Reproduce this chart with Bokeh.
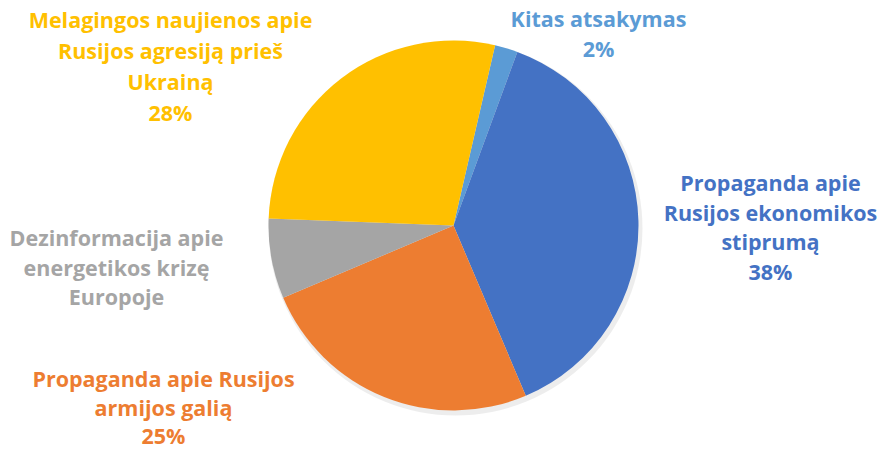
import math
from bokeh.plotting import figure
from bokeh.models import ColumnDataSource, Range1d
from bokeh.embed import file_html
from bokeh.resources import INLINE
from bokeh.core.properties import value

# ---- data ----
categories = [
    "Kitas atsakymas",
    "Propaganda apie Rusijos ekonomikos stiprumą",
    "Propaganda apie Rusijos armijos galią",
    "Dezinformacija apie energetikos krizę Europoje",
    "Melagingos naujienos apie Rusijos agresiją prieš Ukrainą",
]
values = [2, 38, 25, 7, 28]
show_pct = [True, True, True, False, True]
label_lines = [
    ["Kitas atsakymas"],
    ["Propaganda apie", "Rusijos ekonomikos", "stiprumą"],
    ["Propaganda apie Rusijos", "armijos galią"],
    ["Dezinformacija apie", "energetikos krizę", "Europoje"],
    ["Melagingos naujienos apie", "Rusijos agresiją prieš", "Ukrainą"],
]
colors = ["#5B9BD5", "#4472C4", "#ED7D31", "#A5A5A5", "#FFC000"]
text_colors = ["#5B9BD5", "#4472C4", "#ED7D31", "#A5A5A5", "#FFC000"]

# ---- layout (pixel-based data space) ----
W, H = 883, 452
cx, cy = 453, H - 225
R = 185
start_deg = 13.0  # clockwise from 12 o'clock
label_anchor = [(598, H - 18), (770, H - 182), (163, H - 378), (116, H - 237), (170, H - 19)]
line_gaps = [30, 29.5, 28.5, 29.5, 31]

p = figure(width=W, height=H, output_backend="svg", toolbar_location=None,
           x_range=Range1d(0, W), y_range=Range1d(0, H), min_border=0)
p.axis.visible = False
p.grid.visible = False
p.outline_line_color = None
p.background_fill_color = "white"
p.border_fill_color = "white"

total = sum(values)
starts, ends = [], []
acc = start_deg
for v in values:
    a0 = acc
    a1 = acc + v / total * 360.0
    starts.append(math.radians(90 - a0))
    ends.append(math.radians(90 - a1))
    acc = a1

# soft shadow
p.circle(x=[cx + 2], y=[cy - 3], radius=R + 2, fill_color="#000000", fill_alpha=0.07, line_color=None)

src = ColumnDataSource(dict(x=[cx] * len(values), y=[cy] * len(values), start=starts, end=ends,
                            color=colors, cat=categories))
p.wedge(x="x", y="y", radius=R, start_angle="start", end_angle="end", direction="clock",
        fill_color="color", line_color=None, source=src)

tx, ty, tt, tc = [], [], [], []
for i, lines in enumerate(label_lines):
    all_lines = list(lines) + ([f"{values[i]}%"] if show_pct[i] else [])
    ax, ay = label_anchor[i]
    for j, ln in enumerate(all_lines):
        tx.append(ax)
        ty.append(ay - j * line_gaps[i])
        tt.append(ln)
        tc.append(text_colors[i])

p.text(x=tx, y=ty, text=tt, text_color=tc, text_align="center", text_baseline="middle",
       text_font=value("Open Sans"), text_font_style="bold", text_font_size="21.5px")

open("out.html", "w").write(file_html(p, INLINE))
